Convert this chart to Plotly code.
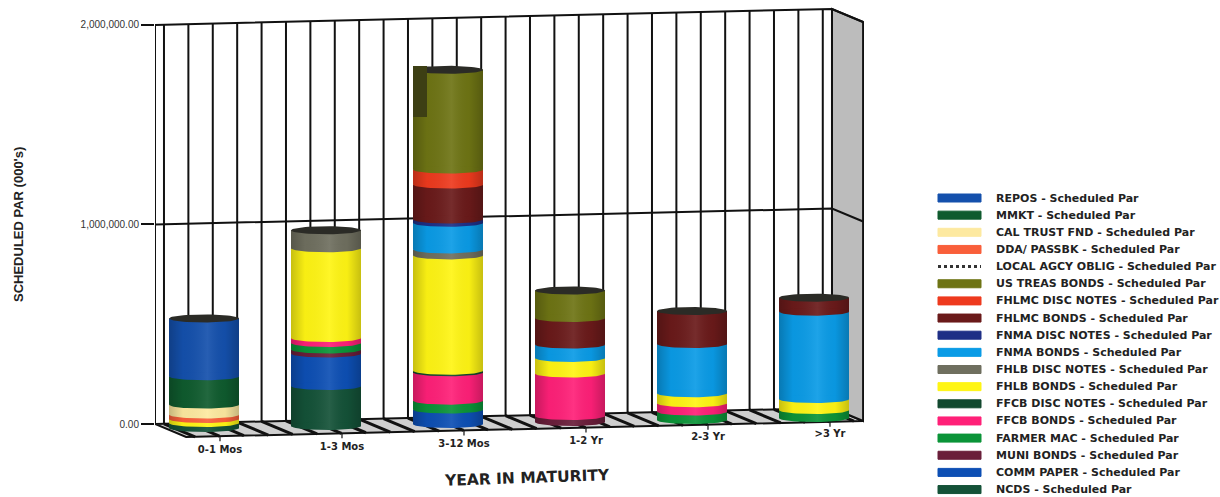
import numpy as np
import plotly.graph_objects as go

CATEGORIES = ["0-1 Mos", "1-3 Mos", "3-12 Mos", "1-2 Yr", "2-3 Yr", ">3 Yr"]
SERIES = ["REPOS", "MMKT", "CAL TRUST FND", "DDA/ PASSBK", "LOCAL AGCY OBLIG", "US TREAS BONDS",
          "FHLMC DISC NOTES", "FHLMC BONDS", "FNMA DISC NOTES", "FNMA BONDS", "FHLB DISC NOTES",
          "FHLB BONDS", "FFCB DISC NOTES", "FFCB BONDS", "FARMER MAC", "MUNI BONDS", "COMM PAPER", "NCDS"]
COLORS = ["#1450ac", "#0f5b2e", "#fde9a0", "#f95f3a", "#ffffff", "#6e7414",
          "#ee3a1e", "#6a1a1a", "#1e2f86", "#0a9be6", "#6f6f5f",
          "#fff514", "#12492f", "#ff2078", "#0b9438", "#6a1e3a", "#0d4fb4", "#145238"]

REPOS = [290000, 0, 0, 0, 0, 0]
MMKT = [142000, 0, 0, 0, 0, 0]
CAL_TRUST = [50000, 0, 0, 0, 0, 0]
DDA = [22000, 0, 0, 0, 0, 0]
LOCAL_AGCY = [0, 0, 0, 0, 0, 0]
US_TREAS = [0, 0, 500000, 138000, 0, 0]
FHLMC_DISC = [0, 0, 75000, 0, 0, 0]
FHLMC_BONDS = [0, 0, 175000, 133000, 165000, 70000]
FNMA_DISC = [0, 0, 17000, 0, 0, 0]
FNMA_BONDS = [0, 0, 133000, 67000, 247000, 438000]
FHLB_DISC = [0, 90000, 30000, 0, 0, 0]
FHLB_BONDS = [20000, 450000, 578000, 78000, 50000, 55000]
FFCB_DISC = [0, 0, 8000, 0, 0, 0]
FFCB_BONDS = [0, 25000, 142000, 213000, 42000, 0]
FARMER_MAC = [0, 33000, 45000, 0, 42000, 40000]
MUNI_BONDS = [0, 20000, 0, 30000, 0, 0]
COMM_PAPER = [0, 163000, 72000, 0, 0, 0]
NCDS = [25000, 200000, 0, 0, 0, 0]
VALUES = [REPOS, MMKT, CAL_TRUST, DDA, LOCAL_AGCY, US_TREAS, FHLMC_DISC, FHLMC_BONDS, FNMA_DISC,
          FNMA_BONDS, FHLB_DISC, FHLB_BONDS, FFCB_DISC, FFCB_BONDS, FARMER_MAC, MUNI_BONDS, COMM_PAPER, NCDS]
Y_TICKS = [0, 1000000, 2000000]
Y_TICK_TEXT = ["0.00", "1,000,000.00", "2,000,000.00"]

# layout geometry (pixels of the page)
L, R, T, B = 155, 864, 5, 465
PX = 5012          # data units per pixel
ZERO_PY = 424
CAT0_PX, CAT_STEP = 204, 122
xr = [(L - CAT0_PX) / CAT_STEP, (R - CAT0_PX) / CAT_STEP]
yr = [(ZERO_PY - B) * PX, (ZERO_PY - T) * PX]
def pax(px): return (px - L) / (R - L)
def pay(py): return (B - py) / (B - T)

WALL_L, WALL_R = xr[0], (832 - CAT0_PX) / CAT_STEP
SLOPE = 16 / 677 * CAT_STEP * PX
DX, DY = 0.255, -13 * PX
def wall(x, y=0): return y + SLOPE * (x - WALL_L)
def seg(pts): return "M" + " L".join(f"{a:.4f},{b:.1f}" for a, b in pts)

grid_x = [-0.328 + 0.2 * k for k in range(28)]
shapes = []
def add(path, fill=None, w=2, color="#111", layer="below"):
    shapes.append(dict(type="path", path=path, xref="x", yref="y", layer=layer,
                       fillcolor=fill or "rgba(0,0,0,0)", line=dict(color=color, width=w)))

# floor and side wall
add(seg([(WALL_L, wall(WALL_L)), (WALL_R, wall(WALL_R)), (WALL_R + DX, wall(WALL_R) + DY),
         (WALL_L + DX, wall(WALL_L) + DY)]) + " Z", fill="#cfcfcf", w=2)
add(seg([(WALL_R, wall(WALL_R)), (WALL_R, wall(WALL_R, 2e6)), (WALL_R + DX, wall(WALL_R, 2e6) + DY),
         (WALL_R + DX, wall(WALL_R) + DY)]) + " Z", fill="#bcbcbc", w=2)
for gx in grid_x:
    add(seg([(gx, wall(gx)), (gx + DX, wall(gx) + DY)]), w=3)
    add(seg([(gx, wall(gx)), (gx, wall(gx, 2e6))]), w=2)
for yv in (1e6, 2e6):
    add(seg([(WALL_L, wall(WALL_L, yv)), (WALL_R, wall(WALL_R, yv)), (WALL_R + DX, wall(WALL_R, yv) + DY)]), w=2)
add(seg([(WALL_L, 0), (WALL_L, 2e6)]), w=2)
add(seg([(WALL_R, wall(WALL_R)), (WALL_R, wall(WALL_R, 2e6))]), w=2)
# category ticks on the front floor edge
for i in range(len(CATEGORIES)):
    tx = i + 16 / CAT_STEP
    fy = wall(tx - DX) + DY
    add(seg([(tx, fy), (tx, fy - 5 * PX)]), w=1.2)

fig = go.Figure()
N = len(CATEGORIES)
W = 70 / CAT_STEP
RY = 4 * PX
lift = np.array([-20000 + 10000 * i for i in range(N)], dtype=float)
vals = np.array(VALUES, dtype=float)
stack_order = list(range(len(SERIES) - 1, -1, -1))

cum = lift.copy()
seg_bases = {}
for s in stack_order:
    seg_bases[s] = cum.copy()
    fig.add_trace(go.Bar(x=list(range(N)), y=vals[s], base=cum.copy(), width=W, name=SERIES[s] + " - Scheduled Par",
                         marker=dict(color=COLORS[s], line=dict(width=0)), showlegend=False,
                         customdata=CATEGORIES, hovertemplate="%{customdata}: %{y}<extra>" + SERIES[s] + "</extra>"))
    cum = cum + vals[s]
tops = cum

t = np.linspace(0, 2 * np.pi, 61)
for s in stack_order:
    for i in range(N):
        if vals[s][i] > 0:
            fig.add_trace(go.Scatter(x=i + W / 2 * np.cos(t), y=seg_bases[s][i] + RY * np.sin(t), mode="lines",
                                     line=dict(width=0), fill="toself", fillcolor=COLORS[s],
                                     hoverinfo="skip", showlegend=False))
# cylinder shading
low = np.linspace(np.pi, 2 * np.pi, 31)
for i in range(N):
    xs = np.r_[i + W / 2 * np.cos(low), i + W / 2, i - W / 2, i - W / 2]
    ys = np.r_[lift[i] + RY * np.sin(low), tops[i], tops[i], lift[i]]
    fig.add_trace(go.Scatter(x=xs, y=ys, mode="lines", line=dict(width=0), fill="toself",
                             fillgradient=dict(type="horizontal", colorscale=[
                                 [0, "rgba(0,0,0,0.22)"], [0.2, "rgba(0,0,0,0.03)"], [0.55, "rgba(255,255,255,0.08)"],
                                 [0.8, "rgba(0,0,0,0.03)"], [1, "rgba(0,0,0,0.22)"]]),
                             hoverinfo="skip", showlegend=False))
    fig.add_trace(go.Scatter(x=i + W / 2 * np.cos(t), y=tops[i] + RY * np.sin(t), mode="lines",
                             line=dict(width=0), fill="toself", fillcolor="#2b2b26",
                             hoverinfo="skip", showlegend=False))

# category labels following the sloped floor
fig.add_trace(go.Scatter(x=[i + 16 / CAT_STEP for i in range(N)], y=[-132000 + 15500 * i for i in range(N)],
                         mode="text", text=CATEGORIES, cliponaxis=False, hoverinfo="skip", showlegend=False,
                         textfont=dict(family="DejaVu Sans", size=10, color="#222", weight="bold")))

# dark patch at the top of the 3-12 Mos column
add(seg([(2 - 35 / CAT_STEP, (ZERO_PY - 66) * PX), (2 - 21 / CAT_STEP, (ZERO_PY - 66) * PX),
         (2 - 21 / CAT_STEP, (ZERO_PY - 117) * PX), (2 - 35 / CAT_STEP, (ZERO_PY - 117) * PX)]) + " Z",
    fill="#3d3f14", w=0, color="#3d3f14", layer="above")

# legend: native legend rows cannot be this tight, so it is drawn row by row
annotations = []
for k, name in enumerate(SERIES):
    py = 198 + 17.15 * k
    shape = dict(type="rect", xref="paper", yref="paper", x0=pax(938), x1=pax(981), y0=pay(py + 4), y1=pay(py - 4),
                 fillcolor=COLORS[k], line=dict(width=1, color=COLORS[k]), layer="above")
    shapes.append(shape)
    if name == "LOCAL AGCY OBLIG":
        shapes[-1]["line"] = dict(width=0, color="#ffffff")
        shapes.append(dict(type="line", xref="paper", yref="paper", x0=pax(938), x1=pax(981), y0=pay(py), y1=pay(py),
                           line=dict(color="#333", width=3, dash="dot")))
    annotations.append(dict(xref="paper", yref="paper", x=pax(994), y=pay(py), xanchor="left", yanchor="middle",
                            showarrow=False, text=f"{name} - Scheduled Par",
                            font=dict(family="DejaVu Sans", size=11, color="#222", weight="bold")))
annotations.append(dict(xref="paper", yref="paper", x=pax(527), y=pay(478), xanchor="center", yanchor="middle",
                        showarrow=False, text="YEAR IN MATURITY", textangle=-2,
                        font=dict(family="DejaVu Sans", size=15.5, color="#222", weight="bold")))
annotations.append(dict(xref="paper", yref="paper", x=pax(18), y=pay(225), xanchor="center", yanchor="middle",
                        showarrow=False, text="SCHEDULED PAR (000's)", textangle=-90,
                        font=dict(family="Liberation Sans", size=13, color="#222", weight="bold")))

fig.update_layout(
    width=1220, height=497, margin=dict(l=L, r=1220 - R, t=T, b=497 - B, autoexpand=False),
    paper_bgcolor="white", plot_bgcolor="white", barmode="overlay", showlegend=False,
    shapes=shapes, annotations=annotations,
    xaxis=dict(range=xr, showgrid=False, zeroline=False, showticklabels=False, ticks="", showline=False),
    yaxis=dict(range=yr, tickvals=Y_TICKS, ticktext=Y_TICK_TEXT, showgrid=False, zeroline=False, showline=False,
               ticks="outside", ticklen=13, tickwidth=2, tickcolor="#111",
               tickfont=dict(family="Liberation Sans", size=10, color="#333")),
)
fig.write_html("out.html", config={"displayModeBar": False}, post_script="document.body.style.margin='0';")
